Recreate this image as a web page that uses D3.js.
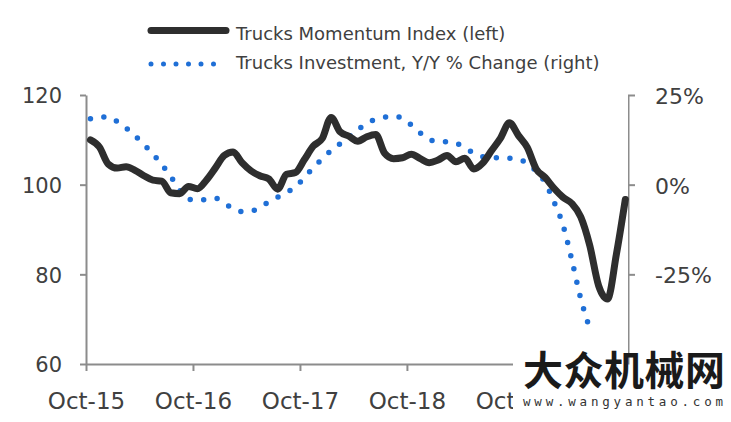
<!DOCTYPE html>
<html>
<head>
<meta charset="utf-8">
<script src="https://cdn.jsdelivr.net/npm/d3@7"></script>
<style>
  body { margin: 0; background: #fff; }
  svg { display: block; }
</style>
</head>
<body>
<svg id="chart" width="731" height="422"></svg>
<script>
// monthly, Oct-15 onwards
const momentum = [110.0, 108.4, 104.6, 103.7, 104.0, 103.2, 102.0, 101.0, 100.8, 98.2,
  98.0, 99.6, 99.1, 101.0, 103.7, 106.5, 107.3, 104.9, 103.1, 102.0,
  101.3, 99.0, 102.3, 102.7, 105.6, 108.6, 110.3, 115.0, 111.8, 110.8,
  109.7, 110.7, 111.2, 107.0, 105.8, 106.0, 106.8, 105.8, 104.9, 105.5,
  106.5, 105.1, 105.9, 103.5, 104.8, 107.6, 110.4, 113.8, 111.0, 108.3,
  103.5, 101.6, 99.2, 97.2, 95.8, 92.8, 86.5, 77.5, 74.5, 84.5, 96.7];
const investment = [18.4, 18.9, 18.9, 17.6, 15.8, 13.6, 11.2, 8.6, 5.6, 2.3,
  -1.5, -4.0, -4.4, -4.1, -3.8, -5.0, -6.8, -7.5, -7.4, -6.4,
  -4.8, -3.5, -2.2, -0.6, 2.0, 4.7, 7.2, 9.5, 11.4, 13.4,
  15.3, 17.2, 18.2, 18.8, 19.1, 18.5, 16.6, 14.4, 12.6, 12.0,
  12.0, 11.6, 10.3, 8.8, 7.8, 7.5, 7.5, 7.4, 7.0, 6.0,
  3.7, 0.6, -4.8, -11.2, -21.0, -31.8, -40.0];
const tickMonths = [0, 12, 24, 36, 48];
const tickLabels = ["Oct-15", "Oct-16", "Oct-17", "Oct-18", "Oct-19"];
const leftTicks = [60, 80, 100, 120];
const rightTicks = [-25, 0, 25];
const legendNames = ["Trucks Momentum Index (left)", "Trucks Investment, Y/Y % Change (right)"];

const svg = d3.select("#chart");
const axisColor = "#8c8c8c";
const textColor = "#404040";
const font = "DejaVu Sans, Verdana, sans-serif";

const x = d3.scaleLinear().domain([0, 60.8]).range([86, 628]);
const yL = d3.scaleLinear().domain([60, 120]).range([364, 95]);
const yR = d3.scaleLinear().domain([-50, 25]).range([364, 95]);

function styleAxis(g) {
  g.select(".domain").attr("stroke", axisColor).attr("stroke-width", 2);
  g.selectAll(".tick line").attr("stroke", axisColor).attr("stroke-width", 2);
  g.selectAll(".tick text").attr("fill", textColor).style("font-family", font);
}

// the watermark box hides the lower right corner
svg.append("clipPath").attr("id", "wmclip")
  .append("path")
  .attr("d", "M0,0H731V340H513V422H0Z");

svg.append("g")
  .attr("transform", "translate(86,0)")
  .call(d3.axisLeft(yL).tickValues(leftTicks).tickSize(6).tickSizeOuter(0).tickPadding(18))
  .call(styleAxis)
  .selectAll(".tick text").style("font-size", "21px").attr("dy", "0.38em");

svg.append("g")
  .attr("transform", "translate(628,0)")
  .attr("clip-path", "url(#wmclip)")
  .call(d3.axisRight(yR).tickValues(rightTicks).tickSize(7).tickSizeOuter(0).tickPadding(20)
    .tickFormat(d => d + "%"))
  .call(styleAxis)
  .selectAll(".tick text").style("font-size", "22px").attr("dy", "0.38em");

const xg = svg.append("g")
  .attr("clip-path", "url(#wmclip)");
xg.append("g")
  .attr("transform", "translate(0,364)")
  .call(d3.axisBottom(x).tickValues(tickMonths).tickSize(7).tickSizeOuter(0).tickPadding(22)
    .tickFormat((d, i) => tickLabels[i]))
  .call(styleAxis)
  .selectAll(".tick text").style("font-size", "23px");

const lineL = d3.line()
  .x((d, i) => x(i + 0.5))
  .y(d => yL(d))
  .curve(d3.curveMonotoneX);
const lineR = d3.line()
  .x((d, i) => x(i + 0.5))
  .y(d => yR(d))
  .curve(d3.curveMonotoneX);

svg.append("path")
  .datum(investment)
  .attr("d", lineR)
  .attr("fill", "none")
  .attr("stroke", "#1f6fd6")
  .attr("stroke-width", 5.5)
  .attr("stroke-linecap", "round")
  .attr("stroke-dasharray", "0 13.6");

svg.append("path")
  .datum(momentum)
  .attr("d", lineL)
  .attr("fill", "none")
  .attr("stroke", "#2e2e2e")
  .attr("stroke-width", 7)
  .attr("stroke-linejoin", "round")
  .attr("stroke-linecap", "round");

// legend
const legend = svg.append("g");
legend.append("line")
  .attr("x1", 151).attr("x2", 226).attr("y1", 30.5).attr("y2", 30.5)
  .attr("stroke", "#2e2e2e").attr("stroke-width", 7).attr("stroke-linecap", "round");
legend.append("line")
  .attr("x1", 151).attr("x2", 226).attr("y1", 64).attr("y2", 64)
  .attr("stroke", "#1f6fd6").attr("stroke-width", 5).attr("stroke-linecap", "round")
  .attr("stroke-dasharray", "0 12.5");
legend.selectAll("text.leg")
  .data(legendNames)
  .join("text")
  .attr("class", "leg")
  .attr("x", 236)
  .attr("y", (d, i) => 40 + i * 29)
  .attr("fill", textColor)
  .style("font-family", font)
  .style("font-size", "18px")
  .text(d => d);

// watermark
const wm = svg.append("g");
wm.append("text")
  .attr("x", 523).attr("y", 385)
  .attr("textLength", 202)
  .attr("fill", "#1a1a1a")
  .style("font-family", "Noto Sans CJK SC")
  .style("font-weight", 700)
  .style("font-size", "40px")
  .text("大众机械网");
wm.append("text")
  .attr("x", 523).attr("y", 406)
  .attr("textLength", 200)
  .attr("fill", "#333")
  .style("font-family", "DejaVu Sans Mono, monospace")
  .style("font-size", "12.5px")
  .text("www.wangyantao.com");
</script>
</body>
</html>
